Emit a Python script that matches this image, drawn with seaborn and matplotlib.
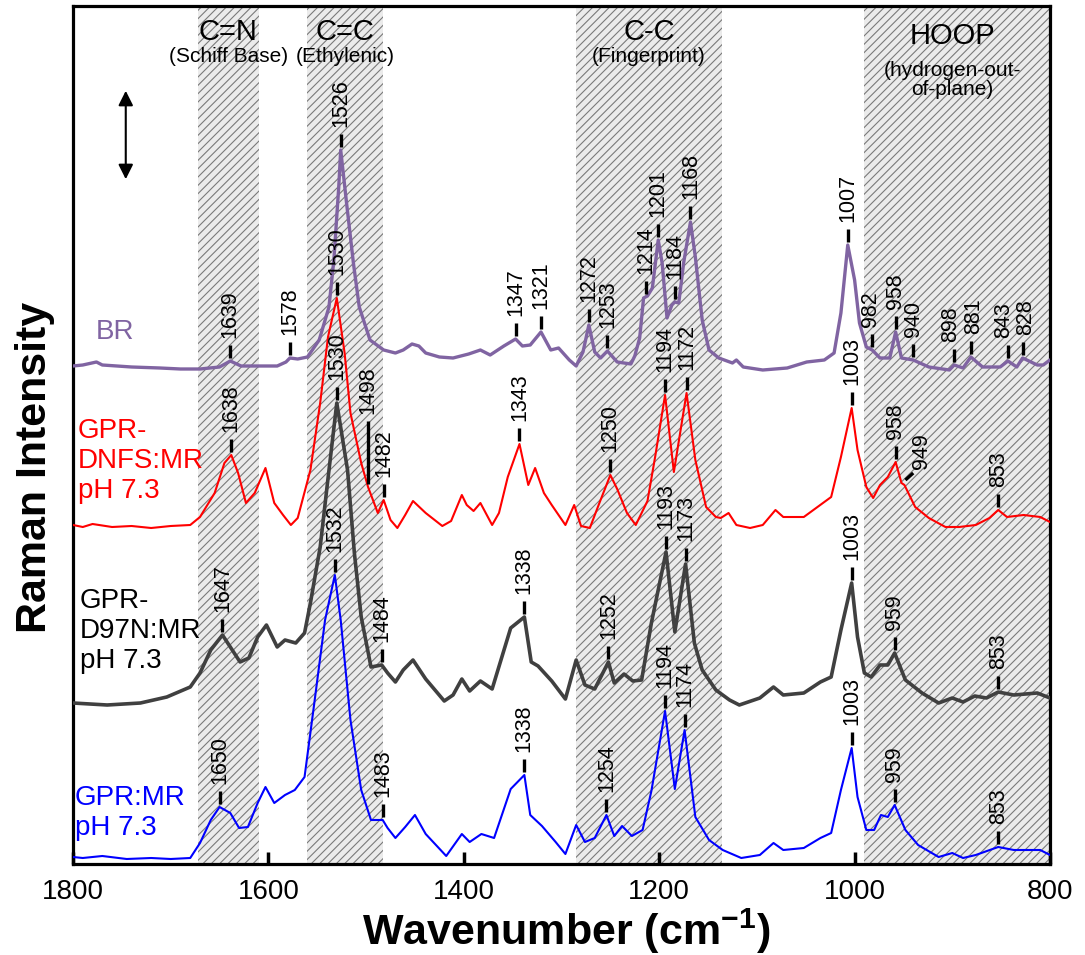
import numpy as np
import matplotlib.pyplot as plt
import seaborn as sns

# Raman spectra (wavenumber in cm-1, intensity in offset a.u.)
br_wn = [1800, 1790, 1776, 1770, 1740, 1711, 1690, 1670, 1650, 1639, 1628, 1610, 1591, 1582, 1578,
         1570, 1560, 1548, 1538, 1533, 1528, 1526, 1520, 1513, 1507, 1496, 1482, 1470, 1462, 1453,
         1446, 1439, 1425, 1411, 1395, 1383, 1373, 1359, 1347, 1340, 1332, 1321, 1311, 1303, 1292,
         1285, 1278, 1272, 1266, 1260, 1253, 1243, 1229, 1225, 1220, 1216, 1212, 1207, 1201, 1197,
         1192, 1187, 1184, 1180, 1175, 1168, 1163, 1156, 1149, 1139, 1125, 1121, 1114, 1094, 1069,
         1049, 1031, 1021, 1014, 1007, 1000, 995, 988, 982, 974, 964, 958, 952, 940, 924,
         903, 898, 889, 881, 869, 851, 843, 834, 828, 813, 807, 800]
br_int = [498, 499, 502, 499, 497, 496, 495, 495, 497, 503, 498, 498, 498, 502, 506,
          505, 507, 524, 557, 604, 677, 714, 661, 601, 557, 524, 514, 511, 514, 520,
          518, 511, 507, 506, 510, 514, 509, 518, 525, 518, 519, 532, 514, 516, 504,
          498, 512, 539, 512, 506, 513, 502, 500, 508, 526, 566, 568, 576, 624, 601,
          546, 559, 562, 561, 601, 642, 607, 544, 514, 506, 501, 504, 497, 494, 496,
          502, 504, 511, 551, 619, 584, 541, 517, 514, 506, 506, 532, 506, 504, 497,
          494, 499, 496, 507, 497, 497, 503, 497, 506, 499, 499, 504]

dnfs_wn = [1800, 1790, 1780, 1760, 1740, 1720, 1700, 1680, 1670, 1655, 1645, 1638, 1631, 1623, 1614,
           1603, 1594, 1585, 1577, 1570, 1557, 1547, 1539, 1530, 1522, 1516, 1505, 1498, 1488, 1482,
           1475, 1468, 1460, 1452, 1439, 1422, 1413, 1402, 1397, 1390, 1383, 1371, 1364, 1355, 1343,
           1334, 1327, 1318, 1310, 1296, 1287, 1280, 1271, 1262, 1250, 1243, 1233, 1224, 1212, 1204,
           1194, 1185, 1172, 1163, 1152, 1142, 1137, 1129, 1121, 1107, 1094, 1081, 1073, 1052, 1038,
           1024, 1014, 1003, 997, 988, 981, 974, 966, 958, 952, 949, 938, 924, 907, 893,
           876, 862, 853, 844, 827, 810, 800]
dnfs_int = [339, 337, 340, 337, 338, 336, 338, 339, 347, 371, 401, 409, 391, 361, 371,
            396, 361, 349, 339, 346, 394, 461, 527, 566, 511, 451, 401, 377, 351, 364,
            344, 336, 349, 363, 351, 338, 343, 369, 359, 353, 361, 339, 351, 387, 420,
            379, 396, 371, 359, 339, 359, 338, 336, 359, 389, 375, 351, 339, 363, 408,
            469, 392, 471, 404, 357, 347, 346, 351, 339, 336, 339, 354, 347, 347, 357,
            367, 407, 456, 414, 377, 366, 379, 387, 402, 381, 379, 357, 346, 337, 337,
            339, 346, 354, 347, 349, 347, 342]

d97n_wn = [1800, 1765, 1731, 1704, 1680, 1670, 1659, 1647, 1639, 1629, 1620, 1611, 1602, 1591, 1583,
           1572, 1563, 1557, 1547, 1540, 1530, 1519, 1512, 1505, 1495, 1484, 1478, 1470, 1462, 1452,
           1439, 1420, 1411, 1402, 1394, 1383, 1371, 1352, 1338, 1331, 1324, 1310, 1296, 1285, 1276,
           1266, 1252, 1246, 1236, 1227, 1218, 1208, 1193, 1184, 1173, 1164, 1156, 1142, 1128, 1118,
           1097, 1083, 1073, 1052, 1035, 1024, 1014, 1003, 997, 990, 983, 974, 966, 959, 948,
           931, 914, 900, 889, 877, 865, 853, 837, 813, 800]
d97n_int = [161, 159, 161, 167, 177, 191, 214, 229, 217, 202, 206, 227, 239, 217, 224,
            221, 231, 261, 317, 377, 461, 394, 311, 247, 197, 199, 191, 182, 194, 204,
            185, 163, 169, 185, 173, 183, 175, 236, 247, 202, 198, 183, 165, 204, 179,
            175, 202, 181, 190, 183, 184, 241, 312, 232, 300, 221, 194, 174, 164, 159,
            166, 177, 169, 171, 182, 187, 234, 281, 227, 191, 187, 199, 199, 211, 184,
            171, 161, 166, 162, 168, 166, 172, 169, 171, 166]

mr_wn = [1800, 1790, 1770, 1745, 1720, 1700, 1680, 1670, 1659, 1650, 1639, 1630, 1621, 1611, 1603,
         1594, 1583, 1573, 1563, 1553, 1542, 1532, 1526, 1516, 1505, 1495, 1483, 1478, 1470, 1460,
         1450, 1439, 1418, 1402, 1394, 1382, 1369, 1352, 1338, 1332, 1320, 1306, 1296, 1285, 1276,
         1266, 1254, 1246, 1238, 1228, 1217, 1208, 1194, 1184, 1174, 1163, 1149, 1135, 1116, 1097,
         1083, 1073, 1052, 1035, 1024, 1014, 1003, 997, 988, 980, 973, 966, 959, 948, 935,
         914, 900, 889, 876, 853, 837, 810, 800]
mr_int = [7, 6, 8, 5, 6, 5, 6, 21, 44, 57, 51, 36, 37, 61, 77,
          61, 69, 74, 87, 161, 244, 289, 244, 144, 74, 44, 44, 36, 26, 37,
          49, 30, 8, 30, 22, 30, 26, 75, 89, 49, 38, 22, 10, 39, 22,
          26, 49, 28, 38, 28, 34, 73, 153, 75, 134, 47, 24, 14, 6, 9,
          21, 14, 16, 26, 31, 74, 116, 67, 34, 34, 49, 47, 59, 34, 19,
          7, 11, 6, 9, 17, 14, 14, 9]

# peak annotations per spectrum
br_peaks = [1639, 1578, 1526, 1347, 1321, 1272, 1253, 1214, 1201, 1184, 1168,
            1007, 982, 958, 940, 898, 881, 843, 828]
dnfs_peaks = [1638, 1530, 1498, 1482, 1343, 1250, 1194, 1172, 1003, 958, 949, 853]
d97n_peaks = [1647, 1530, 1484, 1338, 1252, 1193, 1173, 1003, 959, 853]
mr_peaks = [1650, 1532, 1483, 1338, 1254, 1194, 1174, 1003, 959, 853]

# shaded band assignments
band_edges = [(1672, 1610), (1560, 1483), (1285, 1136), (990, 800)]
band_titles = ['C=N', 'C=C', 'C-C', 'HOOP']
band_subtitles = ['(Schiff Base)', '(Ethylenic)', '(Fingerprint)', '(hydrogen-out-\nof-plane)']

sns.set_theme(style='white')
plt.rcParams['font.family'] = ['Liberation Sans', 'DejaVu Sans']
plt.rcParams['text.color'] = 'black'
plt.rcParams['mathtext.fontset'] = 'custom'
plt.rcParams['mathtext.rm'] = 'Liberation Sans'
plt.rcParams['mathtext.bf'] = 'Liberation Sans:bold'
plt.rcParams['hatch.linewidth'] = 0.8

fig = plt.figure(figsize=(10.85, 9.55), dpi=100)
ax = fig.add_axes([73 / 1085, 1 - 864 / 955, 977 / 1085, 858 / 955])

for x0, x1 in band_edges:
    ax.axvspan(x1, x0, facecolor='#ebebeb', edgecolor='#7a7a7a', hatch='////', lw=0, zorder=0)

spectra = [
    ('BR', br_wn, br_int, '#8064a2', 2.4, br_peaks),
    ('DNFS', dnfs_wn, dnfs_int, '#ff0000', 1.5, dnfs_peaks),
    ('D97N', d97n_wn, d97n_int, '#404040', 2.6, d97n_peaks),
    ('MR', mr_wn, mr_int, '#0000ff', 1.5, mr_peaks),
]

# small sideways nudges so crowded labels do not collide (in cm-1)
nudge = {('BR', 843): 4, ('BR', 828): -3, ('BR', 898): 4, ('BR', 881): -3,
         ('BR', 982): 2}

for name, wn, inten, col, lw, peaks in spectra:
    sns.lineplot(x=wn, y=inten, ax=ax, color=col, linewidth=lw, sort=False,
                 estimator=None, zorder=3)
    wn_a = np.array(wn)[::-1]
    in_a = np.array(inten)[::-1]
    for p in peaks:
        base = np.interp(p, wn_a, in_a)
        if name == 'DNFS' and p == 949:
            # slanted leader, label pushed to the lower right
            ax.plot([p - 1, p - 9], [base + 5, base + 12], color='black', lw=2.4,
                    solid_capstyle='butt', zorder=4)
            ax.text(p - 17, base + 16, str(p), rotation=90, ha='center', va='bottom',
                    fontsize=15.5, zorder=5)
            continue
        dash = 63 if (name == 'DNFS' and p == 1498) else 13
        ax.plot([p, p], [base + 3, base + 3 + dash], color='black', lw=2.4,
                solid_capstyle='butt', zorder=4)
        ax.text(p + nudge.get((name, p), 0), base + dash + 10, str(p), rotation=90,
                ha='center', va='bottom', fontsize=15.5, zorder=5)

# band titles
for (x0, x1), t, s in zip(band_edges, band_titles, band_subtitles):
    xc = (x0 + x1) / 2
    if t == 'HOOP':
        xc = 900
        ax.text(xc, 828, t, ha='center', va='center', fontsize=21)
        ax.text(xc, 784, s, ha='center', va='center', fontsize=15, linespacing=1.05)
    else:
        ax.text(xc, 832, t, ha='center', va='center', fontsize=21)
        ax.text(xc, 807, s, ha='center', va='center', fontsize=15)

# series names
ax.text(1777, 532, 'BR', color='#8064a2', fontsize=20, ha='left', va='center')
ax.text(1795, 446, 'GPR-\nDNFS:MR\npH 7.3', color='#ff0000', fontsize=20,
        ha='left', va='top', linespacing=1.2)
ax.text(1793, 276, 'GPR-\nD97N:MR\npH 7.3', color='black', fontsize=20,
        ha='left', va='top', linespacing=1.2)
ax.text(1798, 79, 'GPR:MR\npH 7.3', color='#0000ff', fontsize=20,
        ha='left', va='top', linespacing=1.2)

# intensity scale arrow
ax.annotate('', xy=(1746, 776), xytext=(1746, 682),
            arrowprops=dict(arrowstyle='<|-|>', color='black', lw=1.5, mutation_scale=22))

ax.set_xlim(1800, 800)
ax.set_ylim(0, 858)
ax.set_xticks([1800, 1600, 1400, 1200, 1000, 800])
ax.set_yticks([])
ax.tick_params(axis='x', direction='in', length=9, width=2.5, labelsize=20, pad=11,
               bottom=True, colors='black')
for sp in ax.spines.values():
    sp.set_visible(True)
    sp.set_color('black')
    sp.set_linewidth(2.3)
ax.set_xlabel('')
ax.set_ylabel('')

fig.text(566 / 1085, 1 - 931 / 955, r'Wavenumber (cm$^{\mathbf{-1}}$)', ha='center',
         va='center', fontsize=31, fontweight='bold')
fig.text(35 / 1085, 1 - 467 / 955, 'Raman Intensity', rotation=90, ha='center',
         va='center', fontsize=31, fontweight='bold')

fig.savefig('out.png', dpi=100)
plt.close(fig)
